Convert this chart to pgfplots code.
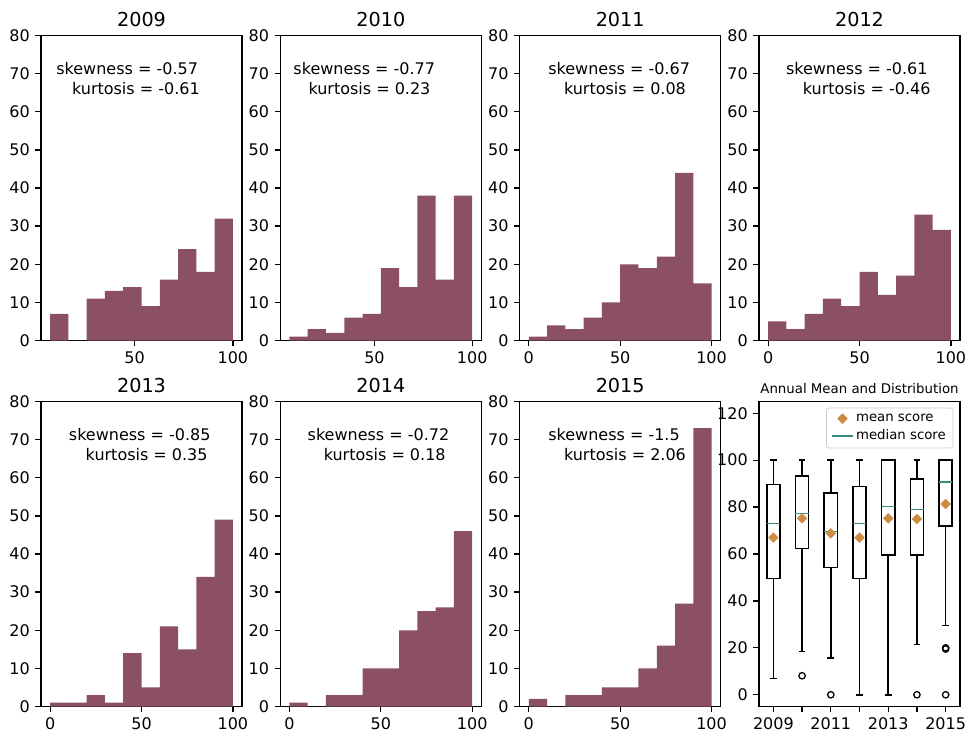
\documentclass[border=0pt]{standalone}
\usepackage{fontspec}
\setmainfont{DejaVu Sans}
\usepackage{pgfplots}
\pgfplotsset{compat=1.18}
\usepgfplotslibrary{statistics}

\definecolor{barc}{RGB}{139,80,99}
\definecolor{meanc}{RGB}{205,140,65}
\definecolor{medc}{RGB}{58,140,130}

\pgfplotsset{
  panel/.style={
    scale only axis, width=125.63pt, height=190.63pt,
    anchor=south west,
    axis line style={line width=0.8pt},
    tick align=outside, tick pos=left,
    major tick length=3.5pt,
    tick style={black, line width=0.8pt},
    ticklabel style={font=\fontsize{10}{12}\selectfont},
    /pgf/number format/assume math mode=true,
    title style={font=\fontsize{12}{14}\selectfont, anchor=base, at={(0.5,1)}, yshift=-0.4pt},
  },
  hist/.style={panel, ymin=0, ymax=80, ytick={0,10,...,80}, xtick={0,50,100}},
  bars/.style={ybar interval, fill=barc, draw=none},
  bx/.style={black, line width=1pt, mark=o, mark size=2pt, mark options={line width=0.8pt},
    forget plot, boxplot/draw direction=y},
}
\tikzset{note/.style={anchor=west, inner sep=0pt, font=\fontsize{10}{12}\selectfont}}

\begin{document}
\begin{tikzpicture}
\useasboundingbox (0,0) rectangle (611.875pt,465.625pt);

% ---- top row ----
\begin{axis}[hist, at={(25.63pt,252.81pt)}, xmin=2.35, xmax=104.65, title={2009}]
\addplot[bars] coordinates {(7,7) (16.3,0) (25.6,11) (34.9,13) (44.2,14) (53.5,9) (62.8,16) (72.1,24) (81.4,18) (90.7,32) (100,0)};
\node[note] at (axis cs:10,71.3) {skewness = -0.57};
\node[note] at (axis cs:18,66.1) {kurtosis = -0.61};
\end{axis}

\begin{axis}[hist, at={(175.19pt,252.81pt)}, xmin=1.825, xmax=104.675, title={2010}]
\addplot[bars] coordinates {(6.5,1) (15.85,3) (25.2,2) (34.55,6) (43.9,7) (53.25,19) (62.6,14) (71.95,38) (81.3,16) (90.65,38) (100,0)};
\node[note] at (axis cs:8.4,71.3) {skewness = -0.77};
\node[note] at (axis cs:16.1,66.1) {kurtosis = 0.23};
\end{axis}

\begin{axis}[hist, at={(324.81pt,252.81pt)}, xmin=-5, xmax=105, title={2011}]
\addplot[bars] coordinates {(0,1) (10,4) (20,3) (30,6) (40,10) (50,20) (60,19) (70,22) (80,44) (90,15) (100,0)};
\node[note] at (axis cs:10.5,71.3) {skewness = -0.67};
\node[note] at (axis cs:19.1,66.1) {kurtosis = 0.08};
\end{axis}

\begin{axis}[hist, at={(474.38pt,252.81pt)}, xmin=-5, xmax=105, title={2012}]
\addplot[bars] coordinates {(0,5) (10,3) (20,7) (30,11) (40,9) (50,18) (60,12) (70,17) (80,33) (90,29) (100,0)};
\node[note] at (axis cs:9.6,71.3) {skewness = -0.61};
\node[note] at (axis cs:18.8,66.1) {kurtosis = -0.46};
\end{axis}

% ---- bottom row ----
\begin{axis}[hist, at={(25.63pt,24.06pt)}, xmin=-5, xmax=105, title={2013}]
\addplot[bars] coordinates {(0,1) (10,1) (20,3) (30,1) (40,14) (50,5) (60,21) (70,15) (80,34) (90,49) (100,0)};
\node[note] at (axis cs:10.1,71.3) {skewness = -0.85};
\node[note] at (axis cs:19.3,66.1) {kurtosis = 0.35};
\end{axis}

\begin{axis}[hist, at={(175.19pt,24.06pt)}, xmin=-5, xmax=105, title={2014}]
\addplot[bars] coordinates {(0,1) (10,0) (20,3) (30,3) (40,10) (50,10) (60,20) (70,25) (80,26) (90,46) (100,0)};
\node[note] at (axis cs:9.8,71.3) {skewness = -0.72};
\node[note] at (axis cs:18.6,66.1) {kurtosis = 0.18};
\end{axis}

\begin{axis}[hist, at={(324.81pt,24.06pt)}, xmin=-5, xmax=105, title={2015}]
\addplot[bars] coordinates {(0,2) (10,0) (20,3) (30,3) (40,5) (50,5) (60,10) (70,16) (80,27) (90,73) (100,0)};
\node[note] at (axis cs:10.5,71.3) {skewness = -1.5};
\node[note] at (axis cs:19.1,66.1) {kurtosis = 2.06};
\end{axis}

% ---- box plot ----
\begin{axis}[panel, at={(474.38pt,24.06pt)},
    xmin=0.5, xmax=7.5, ymin=-5, ymax=125,
    ytick={0,20,...,120}, xtick={1,...,7},
    xticklabels={2009,,2011,,2013,,2015},
    title={Annual Mean and Distribution},
    title style={font=\fontsize{8.33}{10}\selectfont, yshift=-0.8pt},
    boxplot/box extend=0.46, boxplot/whisker extend=0.23,
    boxplot/every median/.style={draw=medc, line width=1pt},
    legend style={at={(1,1)}, anchor=north east, xshift=-4.2pt, yshift=-3.9pt,
      font=\fontsize{8.3}{10}\selectfont, draw=black!20, rounded corners=1.5pt,
      nodes={inner sep=1.5pt}, row sep=1pt},
    legend cell align=left,
    legend image code/.code={\draw[mark repeat=2,mark phase=2,#1] plot coordinates {(0pt,0pt) (6.5pt,0pt) (13pt,0pt)};},
  ]
\addlegendimage{only marks, mark=square*, mark options={rotate=45}, meanc, mark size=2.1pt}
\addlegendentry{mean score}
\addlegendimage{medc, line width=1pt}
\addlegendentry{median score}

\addplot[bx, boxplot prepared={draw position=1, lower whisker=7, lower quartile=49.5, median=73, upper quartile=89.7, upper whisker=100}] coordinates {};
\addplot[bx, boxplot prepared={draw position=2, lower whisker=18.4, lower quartile=62.3, median=77.2, upper quartile=93.3, upper whisker=100}] coordinates {(0,8.1)};
\addplot[bx, boxplot prepared={draw position=3, lower whisker=15.7, lower quartile=54.2, median=69.6, upper quartile=85.9, upper whisker=100}] coordinates {(0,0)};
\addplot[bx, boxplot prepared={draw position=4, lower whisker=0, lower quartile=49.5, median=73, upper quartile=88.7, upper whisker=100}] coordinates {};
\addplot[bx, boxplot prepared={draw position=5, lower whisker=0, lower quartile=59.5, median=80.2, upper quartile=100, upper whisker=100}] coordinates {};
\addplot[bx, boxplot prepared={draw position=6, lower whisker=21.4, lower quartile=59.5, median=79, upper quartile=91.9, upper whisker=100}] coordinates {(0,0)};
\addplot[bx, boxplot prepared={draw position=7, lower whisker=29.5, lower quartile=72, median=90.6, upper quartile=100, upper whisker=100}] coordinates {(0,20) (0,19.5) (0,0)};

\addplot[only marks, mark=square*, mark options={rotate=45}, meanc, mark size=2.1pt, forget plot]
  coordinates {(1,67) (2,75.2) (3,68.8) (4,67) (5,75.2) (6,74.9) (7,81.3)};
\end{axis}
\end{tikzpicture}
\end{document}
